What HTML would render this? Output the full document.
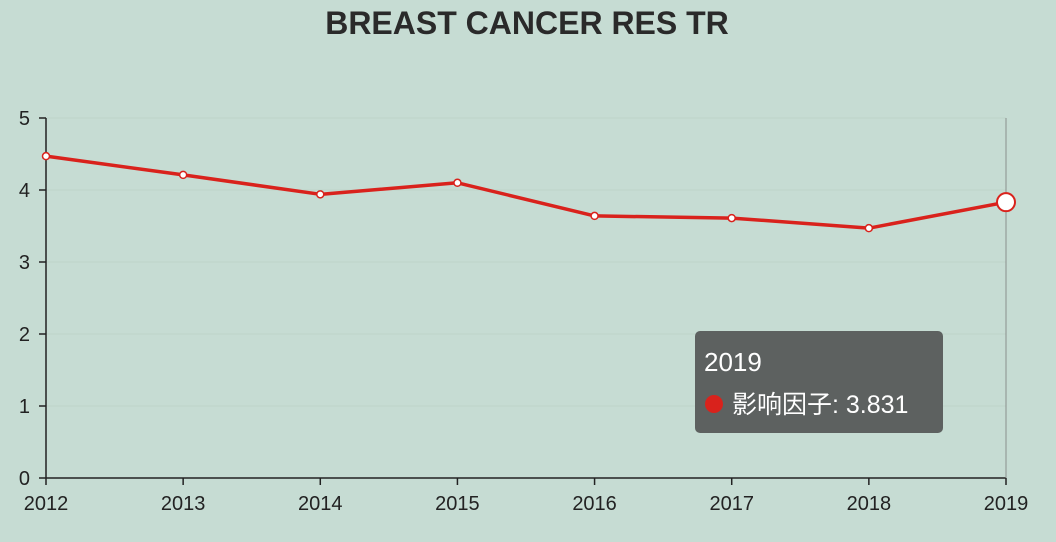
<!DOCTYPE html>
<html><head><meta charset="utf-8"><style>
html,body{margin:0;padding:0;background:#c6dcd3;}
svg{display:block;font-family:"Liberation Sans","Noto Sans CJK SC",sans-serif;}
</style></head><body>
<svg id="chart" width="1056" height="542" viewBox="0 0 1056 542">
<rect width="1056" height="542" fill="#c6dcd3"/>
<text x="527" y="34" text-anchor="middle" font-size="32" font-weight="bold" fill="#2a2a2a">BREAST CANCER RES TR</text>
<g id="grid"></g><g id="axes"></g><g id="series"></g><g id="tip"></g>
</svg>
<script>
const categories=["2012","2013","2014","2015","2016","2017","2018","2019"];
const values=[4.47,4.21,3.94,4.10,3.64,3.61,3.47,3.831];
const yTicks=[0,1,2,3,4,5];
const seriesName="影响因子";
const NS="http://www.w3.org/2000/svg";
const x0=46,x1=1006,y0=478,y1=118,yMax=5;
const xs=i=>x0+(x1-x0)*i/(categories.length-1);
const ys=v=>y0-(y0-y1)*v/yMax;
function mk(tag,attrs,parent,text){const e=document.createElementNS(NS,tag);for(const k in attrs)e.setAttribute(k,attrs[k]);if(text!==undefined)e.textContent=text;document.getElementById(parent).appendChild(e);return e;}
yTicks.forEach(t=>{
  if(t>0){const g=mk('line',{x1:x0,x2:x1,y1:ys(t),y2:ys(t),stroke:'#bdd3ca','stroke-width':1},'grid');
  
  }
  const tk=mk('line',{x1:x0-7,x2:x0,y1:ys(t),y2:ys(t),stroke:'#222','stroke-width':1.5},'axes');
  
  
  const l=mk('text',{x:x0-16,y:ys(t)+7,'text-anchor':'end','font-size':20,fill:'#222'},'axes',String(t));
  
  
});
const ya=mk('line',{x1:x0,x2:x0,y1:y1,y2:y0,stroke:'#222','stroke-width':1.5},'axes');


const xa=mk('line',{x1:x0,x2:x1,y1:y0,y2:y0,stroke:'#222','stroke-width':1.5},'axes');


categories.forEach((c,i)=>{
  const tk=mk('line',{x1:xs(i),x2:xs(i),y1:y0,y2:y0+7,stroke:'#222','stroke-width':1.5},'axes');
  
  
  const l=mk('text',{x:xs(i),y:y0+32,'text-anchor':'middle','font-size':20,fill:'#222'},'axes',c);
  
  
});
const hi=categories.length-1;
const ptr=mk('line',{x1:xs(hi),x2:xs(hi),y1:y1,y2:y0,stroke:'#8a8f8c','stroke-width':1},'axes');


const pts=values.map((v,i)=>xs(i)+','+ys(v)).join(' ');
const line=mk('polyline',{points:pts,fill:'none',stroke:'#d9221c','stroke-width':3.5,'stroke-linejoin':'round'},'series');


values.forEach((v,i)=>{
  const r=i===hi?9:3.5;
  const p=mk('circle',{cx:xs(i),cy:ys(v),r:r,fill:'#fff',stroke:'#d9221c','stroke-width':i===hi?2:1.5},'series');
  
  
});
const tb=mk('rect',{x:695,y:331,width:248,height:102,rx:5,fill:'#5d6160'},'tip');


const tt=mk('text',{x:704,y:371,'font-size':26,fill:'#fff'},'tip',categories[hi]);


const td=mk('circle',{cx:714,cy:404,r:9,fill:'#d9221c'},'tip');


const tv=mk('text',{x:732,y:413,'font-size':25,fill:'#fff'},'tip',seriesName+': '+values[hi]);


</script>
</body></html>
